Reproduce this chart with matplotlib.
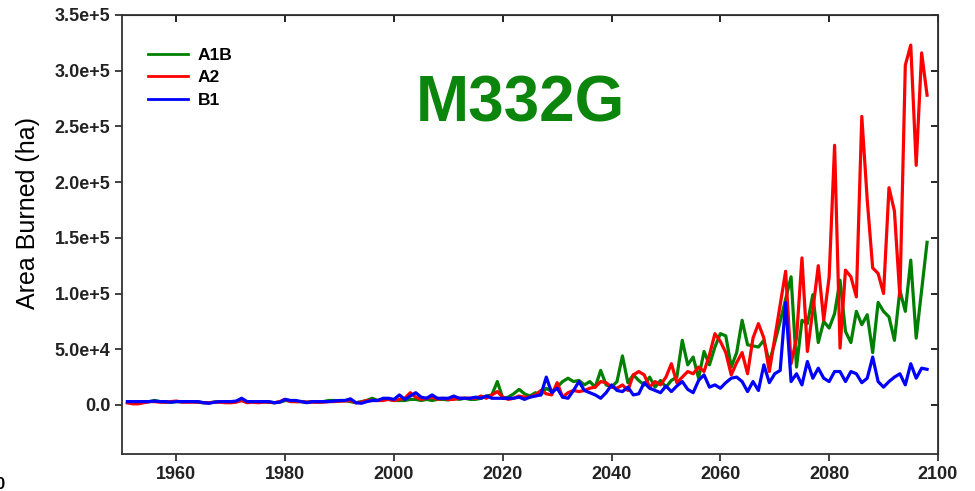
import matplotlib
matplotlib.use("Agg")
import matplotlib.pyplot as plt
import numpy as np
from matplotlib.ticker import FuncFormatter

plt.rcParams['font.family'] = ['Liberation Sans', 'DejaVu Sans']

years = np.arange(1951, 2099)

# area burned, thousands of ha
a1b = [2, 2, 2.5, 2.5, 3, 4, 3, 2.5, 2.5, 3,
       3, 3, 3, 2.5, 2, 2, 2.5, 3, 2.5, 2.5,
       3, 4, 2.5, 3, 2.5, 3, 2.5, 2, 2.5, 4,
       3.5, 3, 3, 2.5, 3, 2.5, 3, 4, 4, 3.5,
       4, 3, 2, 3, 4, 6, 4, 5, 5, 4,
       4, 4, 5, 5, 4, 5, 4, 5, 5, 4.5,
       6, 5, 6, 5,
       5, 6, 8, 9, 21, 6, 7, 10, 14, 10,
       8, 11, 9, 15, 12, 16, 21, 24, 21, 22,
       18, 21, 16, 31, 18, 16, 21, 44, 20, 27,
       22, 18, 25, 16, 22, 16, 22, 25, 58, 36,
       43, 24, 48, 36, 52, 64, 62, 34, 47, 76,
       54, 53, 52, 58, 38, 56, 75, 95, 115, 34,
       76, 73, 99, 56, 75, 69, 82, 112, 66, 56,
       84, 72, 81, 47, 92, 84, 79, 58, 103, 84,
       130, 60, 103, 146]

a2 = [2, 1, 1, 2, 3, 3, 2.5, 2.5, 3, 3.5,
      2.5, 2.5, 2.5, 2.5, 2, 2, 2.5, 2.5, 2, 2,
      2.5, 4, 2, 2.5, 2, 2.5, 2.5, 2, 3, 5,
      3, 3, 3, 2.5, 2.5, 2.5, 2.5, 3, 3, 3.5,
      3.5, 4, 2, 2.5, 4, 4, 4, 4, 5, 4,
      5, 6, 11, 7, 5, 6, 7, 5, 6, 5,
      5, 6, 6, 6,
      6, 8, 6, 9, 12, 7, 5, 6, 8, 7,
      7, 9, 13, 10, 9, 20, 7, 11, 13, 12,
      13, 15, 16, 21, 20, 16, 15, 18, 13, 27,
      30, 27, 16, 21, 18, 25, 37, 20, 25, 30,
      28, 34, 30, 45, 64, 57, 47, 27, 38, 47,
      28, 60, 73, 60, 30, 60, 90, 120, 37, 60,
      132, 48, 85, 125, 76, 115, 233, 51, 121, 115,
      97, 259, 184, 123, 118, 100, 195, 174, 97, 305,
      323, 215, 316, 278]

b1 = [3, 3, 3, 3, 3, 3.5, 3, 3, 2.5, 3,
      3, 3, 3, 3, 2, 1.5, 2.5, 3, 3, 3,
      3.5, 6, 3, 3, 3, 3, 3, 2, 2.5, 5,
      4, 4, 3, 2, 3, 3, 3, 3, 3.5, 4,
      4, 5.5, 2, 1.5, 3, 4, 4, 6, 6, 5,
      9, 5, 8, 11, 7, 6, 9, 6, 6, 6,
      8, 6, 6, 6,
      7, 6, 8, 6, 6, 6, 6, 6, 7, 5,
      7, 8, 9, 25, 11, 15, 7, 6, 13, 21,
      13, 11, 9, 6, 11, 18, 13, 12, 16, 9,
      10, 20, 15, 13, 11, 17, 12, 17, 21, 14,
      11, 22, 27, 16, 18, 15, 20, 24, 25, 21,
      12, 21, 13, 36, 20, 28, 31, 92, 21, 28,
      18, 39, 24, 33, 24, 21, 30, 30, 21, 30,
      28, 20, 24, 43, 21, 16, 21, 25, 28, 18,
      37, 24, 33, 32]

a1b = np.array(a1b) * 1000
a2 = np.array(a2) * 1000
b1 = np.array(b1) * 1000

fig = plt.figure(figsize=(9.75, 4.91), dpi=100)
ax = fig.add_axes([0.1251, 0.0754, 0.8369, 0.8941])

ax.plot(years, a1b, color='#008000', lw=2.3, label='A1B')
ax.plot(years, a2, color='#ff0000', lw=2.3, label='A2')
ax.plot(years, b1, color='#0000ff', lw=2.3, label='B1')

ax.set_xlim(1950, 2100)
ax.set_ylim(-44000, 350000)
ax.set_xticks(np.arange(1960, 2101, 20))
ax.set_yticks(np.arange(0, 350001, 50000))


def sci(v, pos):
    if v == 0:
        return '0.0'
    e = int(np.floor(np.log10(abs(v))))
    return '%.1fe+%d' % (v / 10 ** e, e)


ax.yaxis.set_major_formatter(FuncFormatter(sci))
ax.tick_params(direction='out', length=5, width=1.2, labelsize=13, colors='#222222')
for lab in ax.get_xticklabels() + ax.get_yticklabels():
    lab.set_fontweight('bold')
for s in ax.spines.values():
    s.set_linewidth(1.3)
    s.set_color('#333333')

# inward ticks on top and right
top = ax.secondary_xaxis('top')
top.set_xticks(np.arange(1960, 2101, 20))
top.tick_params(direction='in', length=5, width=1.2, labeltop=False)
right = ax.secondary_yaxis('right')
right.set_yticks(np.arange(0, 350001, 50000))
right.tick_params(direction='in', length=5, width=1.2, labelright=False)

ax.set_ylabel('Area Burned (ha)', fontsize=18)
ax.yaxis.set_label_coords(-0.1, 0.55)

leg = ax.legend(loc='upper left', bbox_to_anchor=(0.032, 0.925), frameon=False,
                prop={'weight': 'bold', 'size': 12.5}, handlelength=2.3,
                handletextpad=0.55, labelspacing=0.42, borderpad=0,
                borderaxespad=0)
for h in leg.get_lines():
    h.set_linewidth(2)

ax.text(0.488, 0.796, 'M332G', transform=ax.transAxes, ha='center', va='center',
        fontsize=46, fontweight='bold', color='#0b850b')

fig.text(0.0, 0.014, '0', ha='center', va='center', fontsize=12, fontweight='bold')

fig.savefig('out.png', dpi=100)
